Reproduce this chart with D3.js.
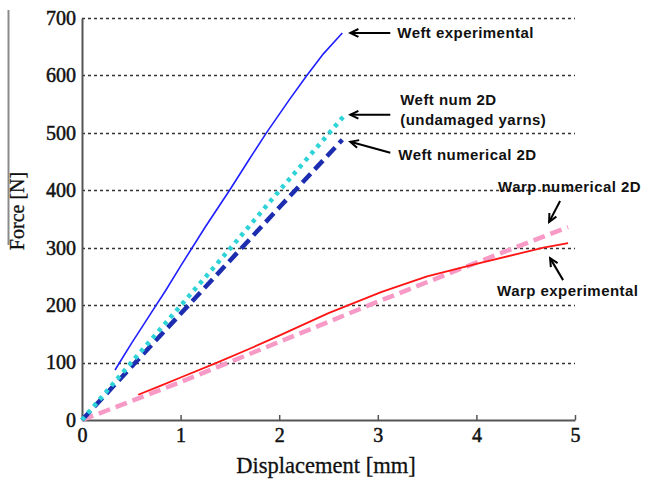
<!DOCTYPE html>
<html>
<head>
<meta charset="utf-8">
<script src="https://cdn.jsdelivr.net/npm/d3@7"></script>
<style>
  html, body { margin: 0; padding: 0; background: #fff; }
  svg { display: block; }
</style>
</head>
<body>
<svg id="chart" width="646" height="483"></svg>
<script>
// Tensile test curves: force vs displacement for weft and warp directions
const xTicks = [0, 1, 2, 3, 4, 5];
const yTicks = [0, 100, 200, 300, 400, 500, 600, 700];

const weftExpX = [0.335, 0.5, 0.7, 0.85, 1.0, 1.25, 1.5, 1.7, 1.87, 2.1, 2.28, 2.45, 2.64];
const weftExpY = [87, 133, 186, 226, 268, 336, 401, 455, 500, 557, 600, 638, 674];

const weftNumUndX = [0, 0.5, 1.0, 1.5, 2.0, 2.65];
const weftNumUndY = [0, 100, 199, 298, 399, 528];

const weftNumX = [0, 1.0, 2.0, 2.64];
const weftNumY = [0, 185, 370, 488];

const warpNumX = [0, 1.0, 2.0, 3.0, 4.0, 4.93];
const warpNumY = [0, 66, 136, 206, 274, 336];

const warpExpX = [0.57, 0.8, 1.0, 1.37, 1.7, 2.0, 2.5, 3.04, 3.5, 4.0, 4.44, 4.68, 4.93];
const warpExpY = [44, 60, 74, 100, 124, 147, 186, 223, 250, 272, 290, 300, 308];

const svg = d3.select("#chart");
const mLeft = 82, mRight = 575, mTop = 18, mBottom = 420;

const x = d3.scaleLinear().domain([0, 5]).range([mLeft, mRight]);
const y = d3.scaleLinear().domain([0, 700]).range([mBottom, mTop]);

const serif = "'Liberation Serif', 'Times New Roman', serif";
const sans = "'Liberation Sans', Arial, sans-serif";

// stray frame fragment at the far left
svg.append("line")
  .attr("x1", 8.5).attr("x2", 8.5).attr("y1", 10).attr("y2", 245)
  .attr("stroke", "#8a8a8a").attr("stroke-width", 2);

// horizontal dotted grid
svg.append("g")
  .selectAll("line")
  .data(yTicks.filter(d => d > 0))
  .join("line")
  .attr("x1", x(0)).attr("x2", x(5))
  .attr("y1", d => Math.round(y(d)) + 0.5).attr("y2", d => Math.round(y(d)) + 0.5)
  .attr("stroke", "#333").attr("stroke-width", 1.3)
  .attr("stroke-dasharray", "3,3");

// x axis
const xAxis = svg.append("g")
  .attr("transform", `translate(0,${mBottom})`)
  .call(d3.axisBottom(x).tickValues(xTicks).tickSizeInner(-5).tickSizeOuter(0).tickPadding(9).tickFormat(d3.format("d")));
xAxis.select(".domain").attr("stroke", "#555").attr("stroke-width", 2);
xAxis.selectAll(".tick line").attr("stroke", "#555").attr("stroke-width", 1.5);
xAxis.selectAll(".tick text")
  .attr("font-family", serif).attr("font-size", 20).attr("fill", "#111")
  .attr("stroke", "#111").attr("stroke-width", 0.5)
  .attr("dy", "0.66em");

// y axis
const yAxis = svg.append("g")
  .attr("transform", `translate(${mLeft},0)`)
  .call(d3.axisLeft(y).tickValues(yTicks).tickSize(0).tickPadding(6).tickFormat(d3.format("d")));
yAxis.select(".domain").attr("stroke", "#555").attr("stroke-width", 2);
yAxis.selectAll(".tick text")
  .attr("font-family", serif).attr("font-size", 20).attr("fill", "#111")
  .attr("stroke", "#111").attr("stroke-width", 0.5);

// axis titles
svg.append("text")
  .attr("x", 326).attr("y", 473)
  .attr("text-anchor", "middle")
  .attr("font-family", serif).attr("font-size", 22.5).attr("fill", "#111")
  .attr("stroke", "#111").attr("stroke-width", 0.3)
  .text("Displacement [mm]");
svg.append("text")
  .attr("transform", "translate(24,211) rotate(-90)")
  .attr("text-anchor", "middle")
  .attr("font-family", serif).attr("font-size", 20).attr("fill", "#111")
  .attr("stroke", "#111").attr("stroke-width", 0.3)
  .text("Force [N]");

// curves
const line = d3.line().x(d => x(d[0])).y(d => y(d[1]));
const zip = (xs, ys) => xs.map((v, i) => [v, ys[i]]);

const plot = svg.append("g").attr("fill", "none").attr("stroke-linejoin", "round");

plot.append("path").datum(zip(warpNumX, warpNumY))
  .attr("d", line).attr("stroke", "#f79ac6").attr("stroke-width", 4.5)
  .attr("stroke-dasharray", "12,6");

plot.append("path").datum(zip(warpExpX, warpExpY))
  .attr("d", line).attr("stroke", "#ff1414").attr("stroke-width", 1.8);

plot.append("path").datum(zip(weftNumX, weftNumY))
  .attr("d", line).attr("stroke", "#1c2db0").attr("stroke-width", 4.5)
  .attr("stroke-dasharray", "12,6");

plot.append("path").datum(zip(weftNumUndX, weftNumUndY))
  .attr("d", line).attr("stroke", "#2ed3d8").attr("stroke-width", 4.5)
  .attr("stroke-dasharray", "4,5");

plot.append("path").datum(zip(weftExpX, weftExpY))
  .attr("d", line).attr("stroke", "#1f1fff").attr("stroke-width", 1.6);

// annotations with arrows
const ann = svg.append("g");

function arrow(x1, y1, x2, y2) {
  const a = Math.atan2(y2 - y1, x2 - x1);
  const h = 9, w = 0.45;
  ann.append("line")
    .attr("x1", x1).attr("y1", y1).attr("x2", x2).attr("y2", y2)
    .attr("stroke", "#000").attr("stroke-width", 2);
  ann.append("path")
    .attr("d", `M${x2 - h * Math.cos(a - w)},${y2 - h * Math.sin(a - w)} L${x2},${y2} L${x2 - h * Math.cos(a + w)},${y2 - h * Math.sin(a + w)}`)
    .attr("fill", "none").attr("stroke", "#000").attr("stroke-width", 2);
}

function label(tx, ty, lines) {
  const t = ann.append("text")
    .attr("font-family", sans).attr("font-weight", "bold").attr("font-size", 15)
    .attr("letter-spacing", 0.45)
    .attr("fill", "#111");
  lines.forEach((s, i) => {
    t.append("tspan").attr("x", tx).attr("y", ty + i * 20).text(s);
  });
}

const endOf = (xs, ys) => [x(xs[xs.length - 1]), y(ys[ys.length - 1])];

let [ex, ey] = endOf(weftExpX, weftExpY);
arrow(ex + 48, ey, ex + 8, ey);
label(ex + 55, ey + 5, ["Weft experimental"]);

[ex, ey] = endOf(weftNumUndX, weftNumUndY);
arrow(ex + 47, ey - 2, ex + 7, ey - 2);
label(ex + 57, ey - 12, ["Weft num 2D", "(undamaged yarns)"]);

[ex, ey] = endOf(weftNumX, weftNumY);
arrow(ex + 48, ey + 13, ex + 8, ey + 2);
label(ex + 56, ey + 20, ["Weft numerical 2D"]);

[ex, ey] = endOf(warpNumX, warpNumY);
arrow(ex - 8, ey - 26, ex - 19, ey - 5);
label(ex - 70, ey - 35, ["Warp numerical 2D"]);

[ex, ey] = endOf(warpExpX, warpExpY);
arrow(ex - 5, ey + 37, ex - 18, ey + 15);
label(ex - 71, ey + 53, ["Warp experimental"]);
</script>
</body>
</html>
